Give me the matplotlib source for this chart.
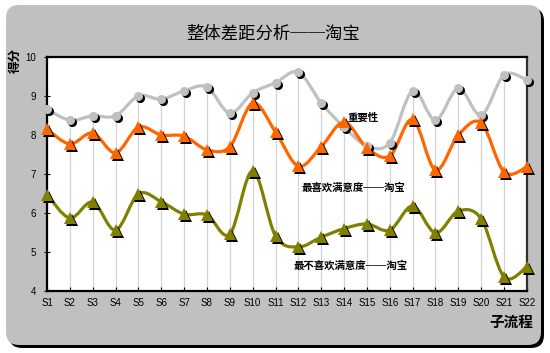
import matplotlib
matplotlib.use('Agg')
import matplotlib.pyplot as plt
from matplotlib.path import Path
from matplotlib.patches import PathPatch, FancyBboxPatch
from matplotlib.transforms import offset_copy

plt.rcParams['font.family'] = ['Liberation Sans', 'Noto Sans CJK SC', 'DejaVu Sans']
CJK = ['Noto Sans CJK SC', 'DejaVu Sans']

categories = ['S%d' % i for i in range(1, 23)]
importance = [8.66, 8.38, 8.49, 8.49, 9.00, 8.92, 9.13, 9.23, 8.56, 9.08, 9.34,
              9.61, 8.82, 8.20, 7.72, 7.80, 9.13, 8.38, 9.20, 8.51, 9.54, 9.41]
most_liked = [8.15, 7.77, 8.05, 7.54, 8.20, 8.00, 7.97, 7.62, 7.70, 8.82, 8.08,
              7.20, 7.70, 8.33, 7.67, 7.46, 8.40, 7.10, 8.00, 8.31, 7.05, 7.18]
least_liked = [6.47, 5.87, 6.28, 5.56, 6.49, 6.29, 5.97, 5.95, 5.46, 7.08, 5.41,
               5.13, 5.38, 5.60, 5.72, 5.56, 6.18, 5.49, 6.05, 5.85, 4.36, 4.62]


def smooth_path(xs, ys):
    # bezier segments through the points (Catmull-Rom style, like Excel smoothing)
    n = len(xs)
    verts = [(xs[0], ys[0])]
    codes = [Path.MOVETO]
    for i in range(n - 1):
        p0 = max(i - 1, 0)
        p3 = min(i + 2, n - 1)
        c1 = (xs[i] + (xs[i + 1] - xs[p0]) / 6, ys[i] + (ys[i + 1] - ys[p0]) / 6)
        c2 = (xs[i + 1] - (xs[p3] - xs[i]) / 6, ys[i + 1] - (ys[p3] - ys[i]) / 6)
        verts += [c1, c2, (xs[i + 1], ys[i + 1])]
        codes += [Path.CURVE4] * 3
    return Path(verts, codes)


fig = plt.figure(figsize=(5.5, 3.53), dpi=100)
fig.patch.set_facecolor('white')

# rounded gray frame with black shadow
shadow = FancyBboxPatch((0.09, 0.05), 5.35, 3.40, boxstyle='round,pad=0,rounding_size=0.13',
                        transform=fig.dpi_scale_trans, facecolor='black', edgecolor='none',
                        zorder=-3)
frame = FancyBboxPatch((0.06, 0.08), 5.35, 3.40, boxstyle='round,pad=0,rounding_size=0.13',
                       transform=fig.dpi_scale_trans, facecolor='#c0c0c0', edgecolor='none',
                       zorder=-2)
fig.patches.extend([shadow, frame])

ax = fig.add_axes([0.0855, 0.1756, 0.8725, 0.663])
ax.set_zorder(1)
ax.set_facecolor('white')
x = list(range(len(categories)))

# drop lines
tops = [max(a, b, c) for a, b, c in zip(importance, most_liked, least_liked)]
ax.vlines(x, 4, tops, color='#d4d4d4', lw=0.9, zorder=1)

series = [
    (importance, '#c0c0c0', 'o', 6.5),
    (most_liked, '#ff6600', '^', 8.5),
    (least_liked, '#808000', '^', 8.5),
]
shadow_tr = offset_copy(ax.transData, fig=fig, x=2, y=-2, units='dots')
for vals, color, marker, ms in series:
    ax.add_patch(PathPatch(smooth_path(x, vals), facecolor='none', edgecolor=color,
                           lw=2.3, zorder=2))
for vals, color, marker, ms in series:
    ax.plot(x, vals, linestyle='none', marker=marker, ms=ms, color='black',
            markeredgewidth=0, transform=shadow_tr, zorder=3, clip_on=False)
    ax.plot(x, vals, linestyle='none', marker=marker, ms=ms, color=color,
            markeredgewidth=0, zorder=4, clip_on=False)

ax.set_xlim(0, 21)
ax.set_ylim(4, 10)
ax.set_yticks(range(4, 11))
ax.set_xticks(x)
ax.set_xticklabels(categories)
ax.tick_params(axis='x', direction='in', length=3, labelsize=7, pad=5)
ax.tick_params(axis='y', direction='inout', length=4, labelsize=7, pad=6)
for side in ['left', 'bottom', 'top']:
    ax.spines[side].set_linewidth(1.6)
    ax.spines[side].set_color('black')
ax.spines['right'].set_linewidth(1.6)
ax.spines['right'].set_color('#303030')

# series labels
ax.text(13.15, 8.44, '重要性', family=CJK, fontsize=7.5, fontweight='bold', va='center', zorder=5)
ax.text(11.15, 6.64, '最喜欢满意度──淘宝', family=CJK, fontsize=7.5, fontweight='bold', va='center', zorder=5)
ax.text(10.8, 4.64, '最不喜欢满意度──淘宝', family=CJK, fontsize=7.5, fontweight='bold', va='center', zorder=5)

fig.text(0.497, 0.905, '整体差距分析──淘宝', family=CJK, fontsize=12.5, ha='center', va='center')
fig.text(0.028, 0.83, '得分', family=CJK, fontsize=9, fontweight='bold', rotation=90,
         ha='center', va='center')
fig.text(0.93, 0.088, '子流程', family=CJK, fontsize=10.5, fontweight='bold', ha='center', va='center')

fig.savefig('out.png', dpi=100)
